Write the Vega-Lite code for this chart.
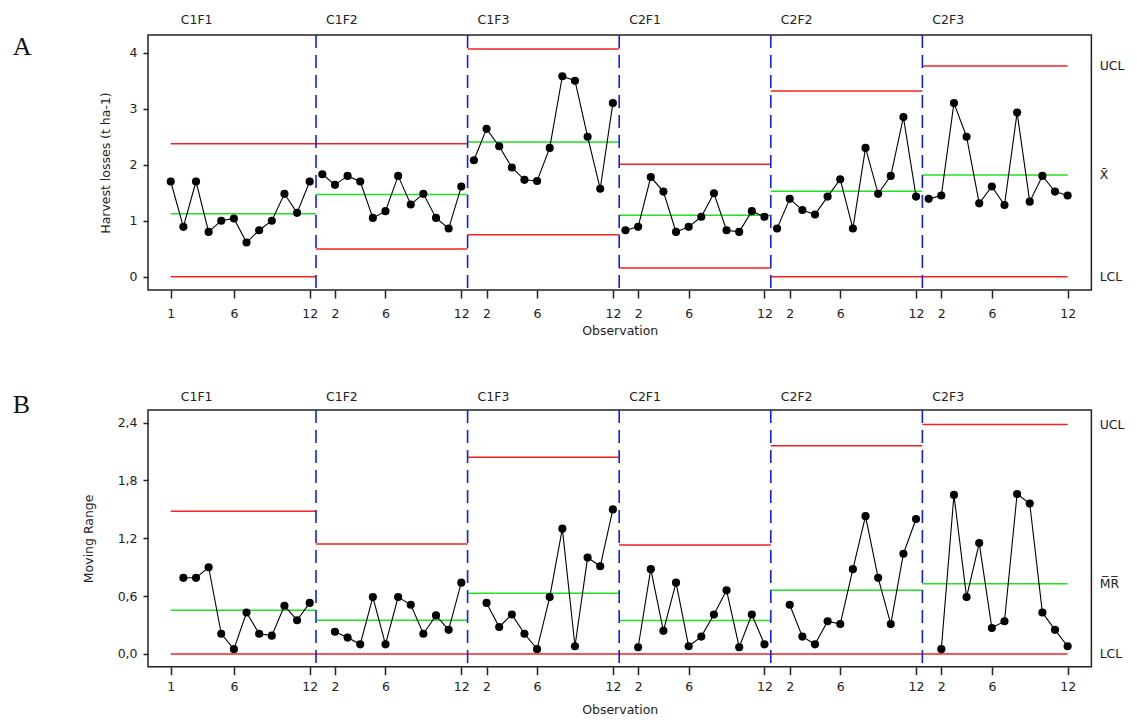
{
  "$schema": "https://vega.github.io/schema/vega-lite/v6.json",
  "padding": {"left": 12, "top": 13, "right": 0, "bottom": 0},
  "autosize": {"type": "pad"},
  "background": "white",
  "bounds": "flush",
  "spacing": 120,
  "config": {
    "view": {"stroke": "#222", "strokeWidth": 1.5},
    "axis": {"grid": false, "domain": false, "tickColor": "#222", "tickWidth": 1.5, "labelFont": "DejaVu Sans", "labelFontSize": 12.5, "labelColor": "#222", "titleFont": "DejaVu Sans", "titleFontSize": 12.5, "titleFontWeight": "normal", "titleColor": "#222"},
    "text": {"font": "DejaVu Sans", "fontSize": 12.5, "color": "#222"}
  },
  "datasets": {
    "obs": [
      {"obs": 1, "stage": "C1F1", "value": 1.70, "mr": null},
      {"obs": 2, "stage": "C1F1", "value": 0.89, "mr": 0.79},
      {"obs": 3, "stage": "C1F1", "value": 1.70, "mr": 0.79},
      {"obs": 4, "stage": "C1F1", "value": 0.80, "mr": 0.90},
      {"obs": 5, "stage": "C1F1", "value": 1.00, "mr": 0.21},
      {"obs": 6, "stage": "C1F1", "value": 1.04, "mr": 0.05},
      {"obs": 7, "stage": "C1F1", "value": 0.61, "mr": 0.43},
      {"obs": 8, "stage": "C1F1", "value": 0.83, "mr": 0.21},
      {"obs": 9, "stage": "C1F1", "value": 1.00, "mr": 0.19},
      {"obs": 10, "stage": "C1F1", "value": 1.48, "mr": 0.50},
      {"obs": 11, "stage": "C1F1", "value": 1.14, "mr": 0.35},
      {"obs": 12, "stage": "C1F1", "value": 1.70, "mr": 0.53},
      {"obs": 13, "stage": "C1F2", "value": 1.83, "mr": null},
      {"obs": 14, "stage": "C1F2", "value": 1.64, "mr": 0.23},
      {"obs": 15, "stage": "C1F2", "value": 1.80, "mr": 0.17},
      {"obs": 16, "stage": "C1F2", "value": 1.70, "mr": 0.10},
      {"obs": 17, "stage": "C1F2", "value": 1.05, "mr": 0.59},
      {"obs": 18, "stage": "C1F2", "value": 1.17, "mr": 0.10},
      {"obs": 19, "stage": "C1F2", "value": 1.80, "mr": 0.59},
      {"obs": 20, "stage": "C1F2", "value": 1.29, "mr": 0.51},
      {"obs": 21, "stage": "C1F2", "value": 1.48, "mr": 0.21},
      {"obs": 22, "stage": "C1F2", "value": 1.05, "mr": 0.40},
      {"obs": 23, "stage": "C1F2", "value": 0.86, "mr": 0.25},
      {"obs": 24, "stage": "C1F2", "value": 1.61, "mr": 0.74},
      {"obs": 25, "stage": "C1F3", "value": 2.08, "mr": null},
      {"obs": 26, "stage": "C1F3", "value": 2.64, "mr": 0.53},
      {"obs": 27, "stage": "C1F3", "value": 2.33, "mr": 0.28},
      {"obs": 28, "stage": "C1F3", "value": 1.95, "mr": 0.41},
      {"obs": 29, "stage": "C1F3", "value": 1.73, "mr": 0.21},
      {"obs": 30, "stage": "C1F3", "value": 1.71, "mr": 0.05},
      {"obs": 31, "stage": "C1F3", "value": 2.30, "mr": 0.59},
      {"obs": 32, "stage": "C1F3", "value": 3.58, "mr": 1.30},
      {"obs": 33, "stage": "C1F3", "value": 3.50, "mr": 0.08},
      {"obs": 34, "stage": "C1F3", "value": 2.50, "mr": 1.00},
      {"obs": 35, "stage": "C1F3", "value": 1.57, "mr": 0.91},
      {"obs": 36, "stage": "C1F3", "value": 3.10, "mr": 1.50},
      {"obs": 37, "stage": "C2F1", "value": 0.83, "mr": null},
      {"obs": 38, "stage": "C2F1", "value": 0.89, "mr": 0.07},
      {"obs": 39, "stage": "C2F1", "value": 1.78, "mr": 0.88},
      {"obs": 40, "stage": "C2F1", "value": 1.52, "mr": 0.24},
      {"obs": 41, "stage": "C2F1", "value": 0.80, "mr": 0.74},
      {"obs": 42, "stage": "C2F1", "value": 0.89, "mr": 0.08},
      {"obs": 43, "stage": "C2F1", "value": 1.07, "mr": 0.18},
      {"obs": 44, "stage": "C2F1", "value": 1.49, "mr": 0.41},
      {"obs": 45, "stage": "C2F1", "value": 0.83, "mr": 0.66},
      {"obs": 46, "stage": "C2F1", "value": 0.80, "mr": 0.07},
      {"obs": 47, "stage": "C2F1", "value": 1.17, "mr": 0.41},
      {"obs": 48, "stage": "C2F1", "value": 1.07, "mr": 0.10},
      {"obs": 49, "stage": "C2F2", "value": 0.86, "mr": null},
      {"obs": 50, "stage": "C2F2", "value": 1.39, "mr": 0.51},
      {"obs": 51, "stage": "C2F2", "value": 1.19, "mr": 0.18},
      {"obs": 52, "stage": "C2F2", "value": 1.11, "mr": 0.10},
      {"obs": 53, "stage": "C2F2", "value": 1.43, "mr": 0.34},
      {"obs": 54, "stage": "C2F2", "value": 1.74, "mr": 0.31},
      {"obs": 55, "stage": "C2F2", "value": 0.86, "mr": 0.88},
      {"obs": 56, "stage": "C2F2", "value": 2.30, "mr": 1.43},
      {"obs": 57, "stage": "C2F2", "value": 1.48, "mr": 0.79},
      {"obs": 58, "stage": "C2F2", "value": 1.80, "mr": 0.31},
      {"obs": 59, "stage": "C2F2", "value": 2.85, "mr": 1.04},
      {"obs": 60, "stage": "C2F2", "value": 1.43, "mr": 1.40},
      {"obs": 61, "stage": "C2F3", "value": 1.39, "mr": null},
      {"obs": 62, "stage": "C2F3", "value": 1.45, "mr": 0.05},
      {"obs": 63, "stage": "C2F3", "value": 3.10, "mr": 1.65},
      {"obs": 64, "stage": "C2F3", "value": 2.50, "mr": 0.59},
      {"obs": 65, "stage": "C2F3", "value": 1.31, "mr": 1.15},
      {"obs": 66, "stage": "C2F3", "value": 1.61, "mr": 0.27},
      {"obs": 67, "stage": "C2F3", "value": 1.28, "mr": 0.34},
      {"obs": 68, "stage": "C2F3", "value": 2.93, "mr": 1.66},
      {"obs": 69, "stage": "C2F3", "value": 1.34, "mr": 1.56},
      {"obs": 70, "stage": "C2F3", "value": 1.80, "mr": 0.43},
      {"obs": 71, "stage": "C2F3", "value": 1.52, "mr": 0.25},
      {"obs": 72, "stage": "C2F3", "value": 1.45, "mr": 0.08}
    ],
    "limits": [
      {"stage": "C1F1", "start": 1, "end": 12.5, "ucl": 2.375, "cl": 1.125, "lcl": 0, "mr_ucl": 1.48, "mr_cl": 0.453, "mr_lcl": 0},
      {"stage": "C1F2", "start": 12.5, "end": 24.5, "ucl": 2.375, "cl": 1.47, "lcl": 0.494, "mr_ucl": 1.14, "mr_cl": 0.349, "mr_lcl": 0},
      {"stage": "C1F3", "start": 24.5, "end": 36.5, "ucl": 4.066, "cl": 2.405, "lcl": 0.75, "mr_ucl": 2.04, "mr_cl": 0.63, "mr_lcl": 0},
      {"stage": "C2F1", "start": 36.5, "end": 48.5, "ucl": 2.007, "cl": 1.096, "lcl": 0.155, "mr_ucl": 1.13, "mr_cl": 0.346, "mr_lcl": 0},
      {"stage": "C2F2", "start": 48.5, "end": 60.5, "ucl": 3.316, "cl": 1.525, "lcl": 0, "mr_ucl": 2.16, "mr_cl": 0.661, "mr_lcl": 0},
      {"stage": "C2F3", "start": 60.5, "end": 72, "ucl": 3.763, "cl": 1.816, "lcl": 0, "mr_ucl": 2.38, "mr_cl": 0.728, "mr_lcl": 0}
    ],
    "bounds": [{"x": 12.5}, {"x": 24.5}, {"x": 36.5}, {"x": 48.5}, {"x": 60.5}]
  },
  "vconcat": [
    {
      "width": 943.4,
      "height": 255,
      "layer": [
        {
          "data": {"name": "limits"},
          "mark": {"type": "rule", "color": "#f52020", "strokeWidth": 1.5},
          "encoding": {
            "x": {"field": "start", "type": "quantitative", "scale": {"domain": [-0.8, 73.88], "nice": false, "zero": false},
              "axis": {"title": "Observation", "values": [1,6,12,14,18,24,26,30,36,38,42,48,50,54,60,62,66,72], "labelExpr": "((datum.value-1)%12)+1", "tickSize": 8, "labelPadding": 9, "titlePadding": 5, "labelFlush": false, "labelOverlap": false}},
            "x2": {"field": "end"},
            "y": {"field": "ucl", "type": "quantitative", "scale": {"domain": [-0.2375, 4.316], "nice": false, "zero": false},
              "axis": {"title": "Harvest losses (t ha-1)", "values": [0,1,2,3,4], "format": "d", "tickSize": 5, "labelPadding": 6, "titlePadding": 17}}
          }
        },
        {
          "data": {"name": "limits"},
          "mark": {"type": "rule", "color": "#f52020", "strokeWidth": 1.5},
          "encoding": {
            "x": {"field": "start", "type": "quantitative", "scale": {"domain": [-0.8, 73.88], "nice": false, "zero": false}},
            "x2": {"field": "end"},
            "y": {"field": "lcl", "type": "quantitative", "scale": {"domain": [-0.2375, 4.316], "nice": false, "zero": false}}
          }
        },
        {
          "data": {"name": "limits"},
          "mark": {"type": "rule", "color": "#22e022", "strokeWidth": 1.5},
          "encoding": {
            "x": {"field": "start", "type": "quantitative", "scale": {"domain": [-0.8, 73.88], "nice": false, "zero": false}},
            "x2": {"field": "end"},
            "y": {"field": "cl", "type": "quantitative", "scale": {"domain": [-0.2375, 4.316], "nice": false, "zero": false}}
          }
        },
        {
          "data": {"name": "bounds"},
          "mark": {"type": "rule", "color": "#1020f0", "strokeWidth": 1.6, "strokeDash": [13, 7]},
          "encoding": {
            "x": {"field": "x", "type": "quantitative", "scale": {"domain": [-0.8, 73.88], "nice": false, "zero": false}}
          }
        },
        {
          "data": {"name": "obs"},
          "mark": {"type": "line", "color": "#000", "strokeWidth": 1.1},
          "encoding": {
            "x": {"field": "obs", "type": "quantitative", "scale": {"domain": [-0.8, 73.88], "nice": false, "zero": false}},
            "y": {"field": "value", "type": "quantitative", "scale": {"domain": [-0.2375, 4.316], "nice": false, "zero": false}},
            "detail": {"field": "stage"}
          }
        },
        {
          "data": {"name": "obs"},
          "mark": {"type": "point", "filled": true, "shape": "circle", "size": 66, "color": "#000", "opacity": 1},
          "encoding": {
            "x": {"field": "obs", "type": "quantitative", "scale": {"domain": [-0.8, 73.88], "nice": false, "zero": false}},
            "y": {"field": "value", "type": "quantitative", "scale": {"domain": [-0.2375, 4.316], "nice": false, "zero": false}}
          }
        },
        {
          "data": {"name": "limits"},
          "mark": {"type": "text", "align": "left", "baseline": "middle", "dx": 10},
          "encoding": {
            "x": {"field": "start", "type": "quantitative", "scale": {"domain": [-0.8, 73.88], "nice": false, "zero": false}},
            "y": {"datum": 4.584, "type": "quantitative", "scale": {"domain": [-0.2375, 4.316], "nice": false, "zero": false}},
            "text": {"field": "stage"}
          }
        },
        {
          "data": {"name": "limits"},
          "transform": [{"filter": "datum.stage == 'C2F3'"}],
          "mark": {"type": "text", "align": "left", "baseline": "middle", "dx": 32, "text": "UCL"},
          "encoding": {
            "x": {"field": "end", "type": "quantitative", "scale": {"domain": [-0.8, 73.88], "nice": false, "zero": false}},
            "y": {"field": "ucl", "type": "quantitative", "scale": {"domain": [-0.2375, 4.316], "nice": false, "zero": false}}
          }
        },
        {
          "data": {"name": "limits"},
          "transform": [{"filter": "datum.stage == 'C2F3'"}],
          "mark": {"type": "text", "align": "left", "baseline": "middle", "dx": 32, "text": "X̄"},
          "encoding": {
            "x": {"field": "end", "type": "quantitative", "scale": {"domain": [-0.8, 73.88], "nice": false, "zero": false}},
            "y": {"field": "cl", "type": "quantitative", "scale": {"domain": [-0.2375, 4.316], "nice": false, "zero": false}}
          }
        },
        {
          "data": {"name": "limits"},
          "transform": [{"filter": "datum.stage == 'C2F3'"}],
          "mark": {"type": "text", "align": "left", "baseline": "middle", "dx": 32, "text": "LCL"},
          "encoding": {
            "x": {"field": "end", "type": "quantitative", "scale": {"domain": [-0.8, 73.88], "nice": false, "zero": false}},
            "y": {"field": "lcl", "type": "quantitative", "scale": {"domain": [-0.2375, 4.316], "nice": false, "zero": false}}
          }
        },
        {
          "data": {"values": [{"panel": "A"}]},
          "mark": {"type": "text", "align": "left", "baseline": "middle", "font": "Liberation Serif", "fontSize": 26, "color": "#111"},
          "encoding": {
            "x": {"datum": -11.5, "type": "quantitative", "scale": {"domain": [-0.8, 73.88], "nice": false, "zero": false}},
            "y": {"datum": 4.10, "type": "quantitative", "scale": {"domain": [-0.2375, 4.316], "nice": false, "zero": false}},
            "text": {"field": "panel"}
          }
        }
      ]
    },
    {
      "width": 943.4,
      "height": 256.7,
      "layer": [
        {
          "data": {"name": "limits"},
          "mark": {"type": "rule", "color": "#f52020", "strokeWidth": 1.5},
          "encoding": {
            "x": {"field": "start", "type": "quantitative", "scale": {"domain": [-0.8, 73.88], "nice": false, "zero": false},
              "axis": {"title": "Observation", "values": [1,6,12,14,18,24,26,30,36,38,42,48,50,54,60,62,66,72], "labelExpr": "((datum.value-1)%12)+1", "tickSize": 8, "labelPadding": 6, "titlePadding": 10, "labelFlush": false, "labelOverlap": false}},
            "x2": {"field": "end"},
            "y": {"field": "mr_ucl", "type": "quantitative", "scale": {"domain": [-0.132, 2.531], "nice": false, "zero": false},
              "axis": {"title": "Moving Range", "values": [0, 0.6, 1.2, 1.8, 2.4], "labelExpr": "replace(format(datum.value, '.1f'), '.', ',')", "tickSize": 5, "labelPadding": 6, "titlePadding": 22}}
          }
        },
        {
          "data": {"name": "limits"},
          "mark": {"type": "rule", "color": "#f52020", "strokeWidth": 1.5},
          "encoding": {
            "x": {"field": "start", "type": "quantitative", "scale": {"domain": [-0.8, 73.88], "nice": false, "zero": false}},
            "x2": {"field": "end"},
            "y": {"field": "mr_lcl", "type": "quantitative", "scale": {"domain": [-0.132, 2.531], "nice": false, "zero": false}}
          }
        },
        {
          "data": {"name": "limits"},
          "mark": {"type": "rule", "color": "#22e022", "strokeWidth": 1.5},
          "encoding": {
            "x": {"field": "start", "type": "quantitative", "scale": {"domain": [-0.8, 73.88], "nice": false, "zero": false}},
            "x2": {"field": "end"},
            "y": {"field": "mr_cl", "type": "quantitative", "scale": {"domain": [-0.132, 2.531], "nice": false, "zero": false}}
          }
        },
        {
          "data": {"name": "bounds"},
          "mark": {"type": "rule", "color": "#1020f0", "strokeWidth": 1.6, "strokeDash": [13, 7]},
          "encoding": {
            "x": {"field": "x", "type": "quantitative", "scale": {"domain": [-0.8, 73.88], "nice": false, "zero": false}}
          }
        },
        {
          "data": {"name": "obs"},
          "transform": [{"filter": "datum.mr != null"}],
          "mark": {"type": "line", "color": "#000", "strokeWidth": 1.1},
          "encoding": {
            "x": {"field": "obs", "type": "quantitative", "scale": {"domain": [-0.8, 73.88], "nice": false, "zero": false}},
            "y": {"field": "mr", "type": "quantitative", "scale": {"domain": [-0.132, 2.531], "nice": false, "zero": false}},
            "detail": {"field": "stage"}
          }
        },
        {
          "data": {"name": "obs"},
          "transform": [{"filter": "datum.mr != null"}],
          "mark": {"type": "point", "filled": true, "shape": "circle", "size": 66, "color": "#000", "opacity": 1},
          "encoding": {
            "x": {"field": "obs", "type": "quantitative", "scale": {"domain": [-0.8, 73.88], "nice": false, "zero": false}},
            "y": {"field": "mr", "type": "quantitative", "scale": {"domain": [-0.132, 2.531], "nice": false, "zero": false}}
          }
        },
        {
          "data": {"name": "limits"},
          "mark": {"type": "text", "align": "left", "baseline": "middle", "dx": 10},
          "encoding": {
            "x": {"field": "start", "type": "quantitative", "scale": {"domain": [-0.8, 73.88], "nice": false, "zero": false}},
            "y": {"datum": 2.666, "type": "quantitative", "scale": {"domain": [-0.132, 2.531], "nice": false, "zero": false}},
            "text": {"field": "stage"}
          }
        },
        {
          "data": {"name": "limits"},
          "transform": [{"filter": "datum.stage == 'C2F3'"}],
          "mark": {"type": "text", "align": "left", "baseline": "middle", "dx": 32, "text": "UCL"},
          "encoding": {
            "x": {"field": "end", "type": "quantitative", "scale": {"domain": [-0.8, 73.88], "nice": false, "zero": false}},
            "y": {"field": "mr_ucl", "type": "quantitative", "scale": {"domain": [-0.132, 2.531], "nice": false, "zero": false}}
          }
        },
        {
          "data": {"name": "limits"},
          "transform": [{"filter": "datum.stage == 'C2F3'"}],
          "mark": {"type": "text", "align": "left", "baseline": "middle", "dx": 32, "text": "M̅R̅"},
          "encoding": {
            "x": {"field": "end", "type": "quantitative", "scale": {"domain": [-0.8, 73.88], "nice": false, "zero": false}},
            "y": {"field": "mr_cl", "type": "quantitative", "scale": {"domain": [-0.132, 2.531], "nice": false, "zero": false}}
          }
        },
        {
          "data": {"name": "limits"},
          "transform": [{"filter": "datum.stage == 'C2F3'"}],
          "mark": {"type": "text", "align": "left", "baseline": "middle", "dx": 32, "text": "LCL"},
          "encoding": {
            "x": {"field": "end", "type": "quantitative", "scale": {"domain": [-0.8, 73.88], "nice": false, "zero": false}},
            "y": {"field": "mr_lcl", "type": "quantitative", "scale": {"domain": [-0.132, 2.531], "nice": false, "zero": false}}
          }
        },
        {
          "data": {"values": [{"panel": "B"}]},
          "mark": {"type": "text", "align": "left", "baseline": "middle", "font": "Liberation Serif", "fontSize": 26, "color": "#111"},
          "encoding": {
            "x": {"datum": -11.5, "type": "quantitative", "scale": {"domain": [-0.8, 73.88], "nice": false, "zero": false}},
            "y": {"datum": 2.583, "type": "quantitative", "scale": {"domain": [-0.132, 2.531], "nice": false, "zero": false}},
            "text": {"field": "panel"}
          }
        }
      ]
    }
  ]
}
